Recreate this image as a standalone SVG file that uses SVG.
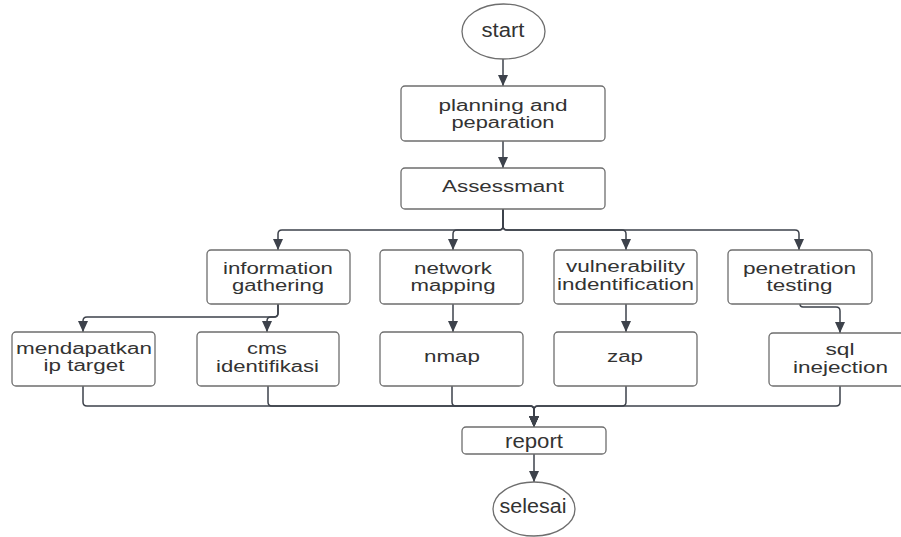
<svg xmlns="http://www.w3.org/2000/svg" width="901" height="537" viewBox="0 0 901 537">
<style>
.box{fill:#ffffff;stroke:#6e6e6e;stroke-width:1.3}
.t{font-family:"Liberation Sans",Arial,sans-serif;font-size:16px;fill:#333333;text-anchor:middle}
.tb{font-family:"Liberation Sans",Arial,sans-serif;font-size:20px;fill:#333333;text-anchor:middle}
.c{fill:none;stroke:#3d424b;stroke-width:1.5}
</style>
<defs>
<marker id="ah" viewBox="0 0 11 10" refX="11" refY="5" markerWidth="11" markerHeight="10" markerUnits="userSpaceOnUse" orient="auto">
<path d="M0,0 L11,5 L0,10 z" fill="#3d424b"/>
</marker>
</defs>
<rect width="901" height="537" fill="#ffffff"/>
<g id="connectors">
<path class="c" marker-end="url(#ah)" d="M503,59 V86"/>
<path class="c" marker-end="url(#ah)" d="M503,141 V168"/>
<path class="c" marker-end="url(#ah)" d="M503,209 V226 Q503,230 499,230 H282 Q278,230 278,234 V250"/>
<path class="c" marker-end="url(#ah)" d="M503,209 V226 Q503,230 499,230 H457 Q453,230 453,234 V250"/>
<path class="c" marker-end="url(#ah)" d="M503,209 V226 Q503,230 507,230 H622 Q626,230 626,234 V250"/>
<path class="c" marker-end="url(#ah)" d="M503,209 V226 Q503,230 507,230 H795 Q799,230 799,234 V250"/>
<path class="c" marker-end="url(#ah)" d="M278,304 V313 Q278,317 274,317 H87 Q83,317 83,321 V332"/>
<path class="c" marker-end="url(#ah)" d="M278,304 V313 Q278,317 274,317 H271 Q267,317 267,321 V332"/>
<path class="c" marker-end="url(#ah)" d="M453,304 V332"/>
<path class="c" marker-end="url(#ah)" d="M626,304 V332"/>
<path class="c" marker-end="url(#ah)" d="M800,304 V304 Q800,307 803,307 H836 Q840,307 840,311 V333"/>
<path class="c" marker-end="url(#ah)" d="M83,386 V402 Q83,406 87,406 H530 Q534,406 534,410 V427"/>
<path class="c" marker-end="url(#ah)" d="M268,386 V402 Q268,406 272,406 H530 Q534,406 534,410 V427"/>
<path class="c" marker-end="url(#ah)" d="M452,386 V402 Q452,406 456,406 H530 Q534,406 534,410 V427"/>
<path class="c" marker-end="url(#ah)" d="M626,386 V402 Q626,406 622,406 H538 Q534,406 534,410 V427"/>
<path class="c" marker-end="url(#ah)" d="M840,386 V402 Q840,406 836,406 H538 Q534,406 534,410 V427"/>
<path class="c" marker-end="url(#ah)" d="M534,454 V482"/>
</g>
<g id="start">
<ellipse class="box" cx="503.5" cy="31.5" rx="41.5" ry="27.5"/>
<text class="tb" x="503" y="37" textLength="43" lengthAdjust="spacingAndGlyphs">start</text>
</g>
<g id="planning">
<rect class="box" x="401" y="86" width="204" height="55" rx="4"/>
<text class="t" x="503" y="111" textLength="129" lengthAdjust="spacingAndGlyphs">planning and</text>
<text class="t" x="503" y="128" textLength="103" lengthAdjust="spacingAndGlyphs">peparation</text>
</g>
<g id="assessmant">
<rect class="box" x="401" y="168" width="204" height="41" rx="4"/>
<text class="t" x="503" y="192" textLength="122" lengthAdjust="spacingAndGlyphs">Assessmant</text>
</g>
<g id="info">
<rect class="box" x="207" y="250" width="143" height="54" rx="4"/>
<text class="t" x="278" y="274" textLength="110" lengthAdjust="spacingAndGlyphs">information</text>
<text class="t" x="278" y="291" textLength="92" lengthAdjust="spacingAndGlyphs">gathering</text>
</g>
<g id="network">
<rect class="box" x="380" y="250" width="143" height="54" rx="4"/>
<text class="t" x="453" y="274" textLength="78" lengthAdjust="spacingAndGlyphs">network</text>
<text class="t" x="453" y="291" textLength="85" lengthAdjust="spacingAndGlyphs">mapping</text>
</g>
<g id="vuln">
<rect class="box" x="554" y="250" width="143" height="54" rx="4"/>
<text class="t" x="625.5" y="272" textLength="119" lengthAdjust="spacingAndGlyphs">vulnerability</text>
<text class="t" x="625.5" y="290" textLength="137" lengthAdjust="spacingAndGlyphs">indentification</text>
</g>
<g id="pen">
<rect class="box" x="728" y="250" width="144" height="54" rx="4"/>
<text class="t" x="799.5" y="274" textLength="113" lengthAdjust="spacingAndGlyphs">penetration</text>
<text class="t" x="799.5" y="291" textLength="66" lengthAdjust="spacingAndGlyphs">testing</text>
</g>
<g id="mendapatkan">
<rect class="box" x="12" y="332" width="143" height="54" rx="4"/>
<text class="t" x="84" y="354" textLength="136" lengthAdjust="spacingAndGlyphs">mendapatkan</text>
<text class="t" x="84" y="371" textLength="81" lengthAdjust="spacingAndGlyphs">ip target</text>
</g>
<g id="cms">
<rect class="box" x="197" y="332" width="142" height="54" rx="4"/>
<text class="t" x="267" y="354" textLength="40" lengthAdjust="spacingAndGlyphs">cms</text>
<text class="t" x="267.5" y="372" textLength="103" lengthAdjust="spacingAndGlyphs">identifikasi</text>
</g>
<g id="nmap">
<rect class="box" x="380" y="332" width="143" height="54" rx="4"/>
<text class="t" x="452" y="362" textLength="56" lengthAdjust="spacingAndGlyphs">nmap</text>
</g>
<g id="zap">
<rect class="box" x="554" y="332" width="143" height="54" rx="4"/>
<text class="t" x="625" y="362" textLength="36" lengthAdjust="spacingAndGlyphs">zap</text>
</g>
<g id="sql">
<rect class="box" x="769" y="333" width="143" height="53" rx="4"/>
<text class="t" x="840" y="355" textLength="29" lengthAdjust="spacingAndGlyphs">sql</text>
<text class="t" x="840.5" y="373" textLength="95" lengthAdjust="spacingAndGlyphs">inejection</text>
</g>
<g id="report">
<rect class="box" x="462" y="427" width="144" height="27" rx="4"/>
<text class="tb" x="534" y="448" textLength="58" lengthAdjust="spacingAndGlyphs">report</text>
</g>
<g id="selesai">
<ellipse class="box" cx="534" cy="509" rx="41" ry="27"/>
<text class="tb" x="533" y="513" textLength="67" lengthAdjust="spacingAndGlyphs">selesai</text>
</g>
</svg>
